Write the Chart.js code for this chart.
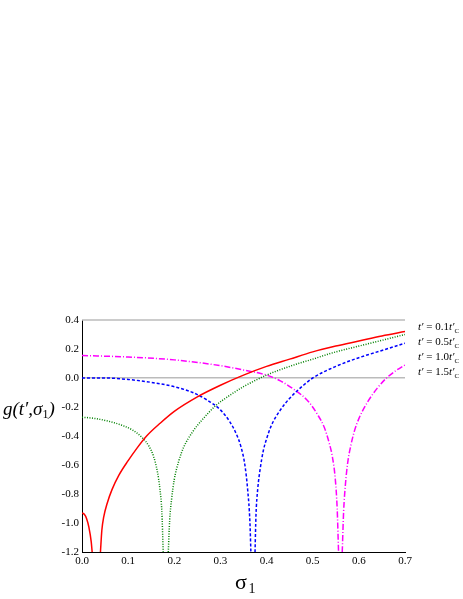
<!DOCTYPE html>
<html><head><meta charset="utf-8">
<script src="https://cdn.jsdelivr.net/npm/chart.js"></script>
<style>html,body{margin:0;padding:0;background:#fff}#w{width:463px;height:599px}</style>
</head><body><div id="w"><canvas id="c"></canvas></div>
<script>
const labels=["t\u2032 = 0.1t\u2032C","t\u2032 = 0.5t\u2032C","t\u2032 = 1.0t\u2032C","t\u2032 = 1.5t\u2032C"];
const xTicks=[0,0.1,0.2,0.3,0.4,0.5,0.6,0.7];
const yTicks=[-1.2,-1.0,-0.8,-0.6,-0.4,-0.2,0,0.2,0.4];
const redX=[0,0.005,0.01,0.015,0.02,0.022,null,0.04,0.043,0.047,0.055,0.065,0.08,0.1,0.12,0.14,0.17,0.2,0.25,0.3,0.35,0.4,0.45,0.5,0.55,0.6,0.65,0.7];
const redY=[-0.93,-0.94,-0.97,-1.03,-1.13,-1.2,null,-1.2,-1.05,-0.96,-0.86,-0.77,-0.67,-0.57,-0.48,-0.4,-0.31,-0.23,-0.13,-0.05,0.02,0.08,0.13,0.18,0.22,0.255,0.29,0.32];
const greenX=[0,0.03,0.06,0.09,0.11,0.13,0.145,0.155,0.163,0.169,0.173,0.176,null,0.187,0.19,0.194,0.2,0.21,0.22,0.24,0.26,0.29,0.32,0.35,0.4,0.45,0.5,0.55,0.6,0.65,0.7];
const greenY=[-0.27,-0.28,-0.3,-0.33,-0.36,-0.41,-0.47,-0.54,-0.64,-0.77,-0.92,-1.2,null,-1.2,-0.98,-0.84,-0.7,-0.57,-0.48,-0.37,-0.29,-0.19,-0.12,-0.06,0.02,0.08,0.13,0.18,0.22,0.26,0.3];
const blueX=[0,0.05,0.1,0.15,0.2,0.24,0.27,0.3,0.32,0.335,0.345,0.353,0.359,0.364,0.366,null,0.375,0.377,0.381,0.386,0.393,0.4,0.41,0.43,0.45,0.48,0.5,0.55,0.6,0.65,0.7];
const blueY=[0,0,-0.01,-0.03,-0.06,-0.1,-0.15,-0.22,-0.3,-0.39,-0.48,-0.6,-0.77,-1.0,-1.2,null,-1.2,-0.95,-0.76,-0.63,-0.5,-0.42,-0.33,-0.22,-0.14,-0.05,0,0.08,0.14,0.19,0.24];
const magX=[0,0.1,0.2,0.3,0.35,0.4,0.43,0.46,0.49,0.51,0.525,0.535,0.543,0.549,0.553,0.556,null,0.564,0.567,0.571,0.576,0.583,0.59,0.6,0.62,0.64,0.66,0.68,0.7];
const magY=[0.155,0.145,0.125,0.085,0.055,0.02,-0.02,-0.08,-0.16,-0.25,-0.34,-0.44,-0.55,-0.7,-0.9,-1.2,null,-1.2,-0.92,-0.73,-0.58,-0.46,-0.37,-0.28,-0.16,-0.07,0,0.05,0.09];
const colors=['#ff0000','#008000','#0000ff','#ff00ff'];
const dashes=[[],[1,1.5],[3,2],[6,2,1,2]];
function pts(xs,ys){return xs.map((x,i)=>x===null?{x:NaN,y:null}:{x:x,y:ys[i]});}
const series=[[redX,redY],[greenX,greenY],[blueX,blueY],[magX,magY]];
const serif='"Liberation Serif", "DejaVu Serif", serif';
const overlay={id:'ov',afterDraw(ch){
  const c=ch.ctx,a=ch.chartArea;c.save();
  c.strokeStyle='#bbbbbb';c.lineWidth=1.5;c.beginPath();c.moveTo(a.left,a.top);c.lineTo(a.right,a.top);c.stroke();
  c.fillStyle='#000';c.font='italic 19px '+serif;c.textBaseline='middle';c.textAlign='left';
  c.fillText('g(t\u2032,\u03c3',3,410);let w=c.measureText('g(t\u2032,\u03c3').width;
  c.font='12px '+serif;c.fillText('1',3+w,415);let w2=c.measureText('1').width;
  c.font='italic 19px '+serif;c.fillText(')',3+w+w2,410);
  c.font='22px '+serif;c.textAlign='center';c.fillText('\u03c3',241,583);
  c.font='14px '+serif;c.fillText('1',252,589);
  const ly=[327,342,357,372];
  const txt=['0.1','0.5','1.0','1.5'];
  ly.forEach((y,i)=>{let x=418;c.textAlign='left';
    c.font='italic 11px '+serif;c.fillText('t\u2032',x,y);x+=c.measureText('t\u2032').width;
    c.font='11px '+serif;let s=' = '+txt[i];c.fillText(s,x,y);x+=c.measureText(s).width;
    c.font='italic 11px '+serif;c.fillText('t\u2032',x,y);x+=c.measureText('t\u2032').width;
    c.font='7px '+serif;c.fillText('C',x,y+4);});
  c.restore();}};
new Chart(document.getElementById('c'),{type:'scatter',
 data:{datasets:series.map((s,i)=>({label:labels[i],data:pts(s[0],s[1]),showLine:true,spanGaps:false,borderColor:colors[i],borderWidth:1.5,borderDash:dashes[i],pointRadius:0,tension:0.2,cubicInterpolationMode:'monotone',fill:false}))},
 options:{responsive:true,maintainAspectRatio:false,animation:false,
  layout:{padding:{top:320,right:58,left:0,bottom:0}},
  plugins:{legend:{display:false},tooltip:{enabled:false}},
  scales:{
   x:{type:'linear',min:0,max:0.7,afterFit(s){s.height=47;},afterBuildTicks(s){s.ticks=xTicks.map(v=>({value:v}));},
     ticks:{color:'#000',font:{family:serif,size:11},callback:v=>v.toFixed(1),padding:3,maxRotation:0},
     grid:{display:false,drawTicks:false},border:{color:'#000'}},
   y:{type:'linear',min:-1.2,max:0.4,afterFit(s){s.width=82;},afterBuildTicks(s){s.ticks=yTicks.map(v=>({value:v}));},
     ticks:{color:'#000',font:{family:serif,size:11},callback:v=>v.toFixed(1),padding:3},
     grid:{color:c=>c.tick&&Math.abs(c.tick.value)<1e-9?'#bbbbbb':'rgba(0,0,0,0)',lineWidth:1.5,drawTicks:false},border:{color:'#000'}}
  }},plugins:[overlay]});
</script></body></html>
